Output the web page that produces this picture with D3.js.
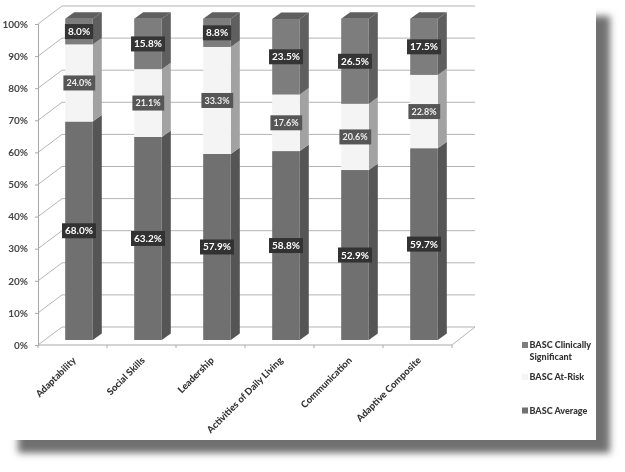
<!DOCTYPE html>
<html>
<head>
<meta charset="utf-8">
<script src="https://cdnjs.cloudflare.com/ajax/libs/d3/7.8.5/d3.min.js"></script>
<style>
    html, body { margin: 0; padding: 0; background: #fff; }
    svg { display: block; font-family: Lato, "Open Sans", sans-serif; }
</style>
</head>
<body>
<svg id="chart" width="625" height="472"></svg>
<script>
const categories = ['Adaptability', 'Social Skills', 'Leadership', 'Activities of Daily Living', 'Communication', 'Adaptive Composite'];
const average = [68.0, 63.2, 57.9, 58.8, 52.9, 59.7];
const atRisk = [24.0, 21.1, 33.3, 17.6, 20.6, 22.8];
const significant = [8.0, 15.8, 8.8, 23.5, 26.5, 17.5];
const yTicks = [0, 10, 20, 30, 40, 50, 60, 70, 80, 90, 100];

const depth = { x: 24, y: 18 };
const barDepth = { x: 9, y: 6.5 };

const seriesStyle = [
    { name: 'BASC Average', values: average, front: '#6f6f6f', side: '#545454', box: '#333', text: '#fff', size: 10 },
    { name: 'BASC At-Risk', values: atRisk, front: '#f4f4f4', side: '#a2a2a2', box: '#565656', text: '#eee', size: 9 },
    { name: 'BASC Clinically Significant', values: significant, front: '#7d7d7d', side: '#5e5e5e', box: '#363636', text: '#fff', size: 10 }
];

const svg = d3.select('#chart');

const defs = svg.append('defs');
defs.append('filter').attr('id', 'shadow-blur')
    .attr('x', '-5%').attr('y', '-5%').attr('width', '110%').attr('height', '110%')
    .append('feGaussianBlur').attr('stdDeviation', 3.5);
defs.append('filter').attr('id', 'soft')
    .attr('x', '-2%').attr('y', '-2%').attr('width', '104%').attr('height', '104%')
    .append('feGaussianBlur').attr('stdDeviation', 0.35);

// page shadow behind the white sheet
svg.append('rect')
    .attr('x', 18).attr('y', 16).attr('width', 592).attr('height', 437)
    .attr('fill', '#6f6f6f')
    .attr('filter', 'url(#shadow-blur)');
svg.append('rect')
    .attr('x', 0).attr('y', 0).attr('width', 596).attr('height', 440)
    .attr('fill', '#fff');

const chart = svg.append('g').attr('filter', 'url(#soft)');

const x = d3.scaleBand().domain(categories).range([38, 452]).paddingInner(0.6).paddingOuter(0.3);
const y = d3.scaleLinear().domain([0, 100]).range([345, 24]);
const yBar = d3.scaleLinear().domain([0, 100]).range([340, 18.7]);
const step = x.step();
const barShift = 6.5;

// back wall and side wall
const grid = chart.append('g').attr('fill', 'none');
grid.selectAll('.back-line')
    .data(yTicks)
    .join('line')
    .attr('class', 'back-line')
    .attr('x1', 38 + depth.x).attr('x2', 452 + depth.x - 1)
    .attr('y1', d => y(d) - depth.y).attr('y2', d => y(d) - depth.y)
    .attr('stroke', '#b4b4b4').attr('stroke-width', 1);
grid.selectAll('.side-line')
    .data(yTicks)
    .join('line')
    .attr('class', 'side-line')
    .attr('x1', 38).attr('x2', 38 + depth.x)
    .attr('y1', d => y(d)).attr('y2', d => y(d) - depth.y)
    .attr('stroke', '#b4b4b4').attr('stroke-width', 1);
grid.append('line')
    .attr('x1', 452).attr('x2', 452 + depth.x - 1)
    .attr('y1', y(0)).attr('y2', y(0) - depth.y)
    .attr('stroke', '#b4b4b4');

// y axis
const yAxis = chart.append('g')
    .attr('transform', 'translate(38,0)')
    .call(d3.axisLeft(y).tickValues(yTicks).tickFormat(d => d + '%').tickSize(3).tickPadding(7));
yAxis.selectAll('path, line').attr('stroke', '#a8a8a8');
yAxis.selectAll('text')
    .attr('font-size', 10).attr('font-family', 'Lato').attr('font-weight', 700).attr('fill', '#444');

// x axis, ticks sit on the band edges
const xLine = chart.append('g');
xLine.append('line')
    .attr('x1', 38).attr('x2', 452).attr('y1', y(0)).attr('y2', y(0))
    .attr('stroke', '#a8a8a8');
xLine.selectAll('.tick-mark')
    .data(d3.range(categories.length + 1))
    .join('line')
    .attr('class', 'tick-mark')
    .attr('x1', d => 38 + d * step).attr('x2', d => 38 + d * step)
    .attr('y1', y(0)).attr('y2', y(0) + 3)
    .attr('stroke', '#a8a8a8');

chart.append('g').selectAll('text')
    .data(categories)
    .join('text')
    .attr('text-anchor', 'end')
    .attr('transform', d => `translate(${x(d) + x.bandwidth() / 2 + 4},${y(0) + 16}) rotate(-45)`)
    .attr('font-size', 9.5).attr('font-weight', 900).attr('fill', '#333')
    .text(d => d);

// stacked 3d bars
const labels = [];
categories.forEach((cat, i) => {
    const bx = x(cat) + barShift;
    const w = x.bandwidth();
    let total = 0;
    const g = chart.append('g');
    seriesStyle.forEach((s, k) => {
        const v = s.values[i];
        const y0 = yBar(total);
        const y1 = yBar(Math.min(total + v, 100));
        total += v;
        g.append('path')
            .attr('d', `M${bx + w},${y0}L${bx + w + barDepth.x},${y0 - barDepth.y}L${bx + w + barDepth.x},${y1 - barDepth.y}L${bx + w},${y1}Z`)
            .attr('fill', s.side);
        g.append('rect')
            .attr('x', bx).attr('y', y1).attr('width', w).attr('height', y0 - y1)
            .attr('fill', s.front);
        if (k === seriesStyle.length - 1) {
            g.append('path')
                .attr('d', `M${bx},${y1}L${bx + barDepth.x},${y1 - barDepth.y}L${bx + w + barDepth.x},${y1 - barDepth.y}L${bx + w},${y1}Z`)
                .attr('fill', '#5f5f5f');
        }
        labels.push({ cx: bx + w / 2, cy: (y0 + y1) / 2, text: v.toFixed(1) + '%', style: s });
    });
});

// value labels on dark boxes
labels.forEach(d => {
    const g = chart.append('g');
    const t = g.append('text')
        .attr('x', d.cx).attr('y', d.cy)
        .attr('text-anchor', 'middle').attr('dy', '0.35em')
        .attr('font-size', d.style.size).attr('font-weight', 700)
        .attr('fill', d.style.text)
        .text(d.text);
    const b = t.node().getBBox();
    g.insert('rect', 'text')
        .attr('x', b.x - 3).attr('y', d.cy - 7.5)
        .attr('width', b.width + 6).attr('height', 15)
        .attr('fill', d.style.box);
});

// legend
const legendItems = [
    { lines: ['BASC Clinically', 'Significant'], color: '#7d7d7d', y: 345 },
    { lines: ['BASC At-Risk'], color: '#f4f4f4', y: 377 },
    { lines: ['BASC Average'], color: '#6f6f6f', y: 410.5 }
];
const legend = chart.append('g');
legendItems.forEach(item => {
    legend.append('rect')
        .attr('x', 522).attr('y', item.y - 3).attr('width', 6).attr('height', 6)
        .attr('fill', item.color);
    legend.append('text')
        .attr('x', 529.5).attr('y', item.y).attr('dy', '0.35em')
        .attr('font-size', 9).attr('font-weight', 900).attr('fill', '#333')
        .selectAll('tspan')
        .data(item.lines)
        .join('tspan')
        .attr('x', 529.5)
        .attr('dy', (d, i) => i ? '1.3em' : null)
        .text(d => d);
});
</script>
</body>
</html>
